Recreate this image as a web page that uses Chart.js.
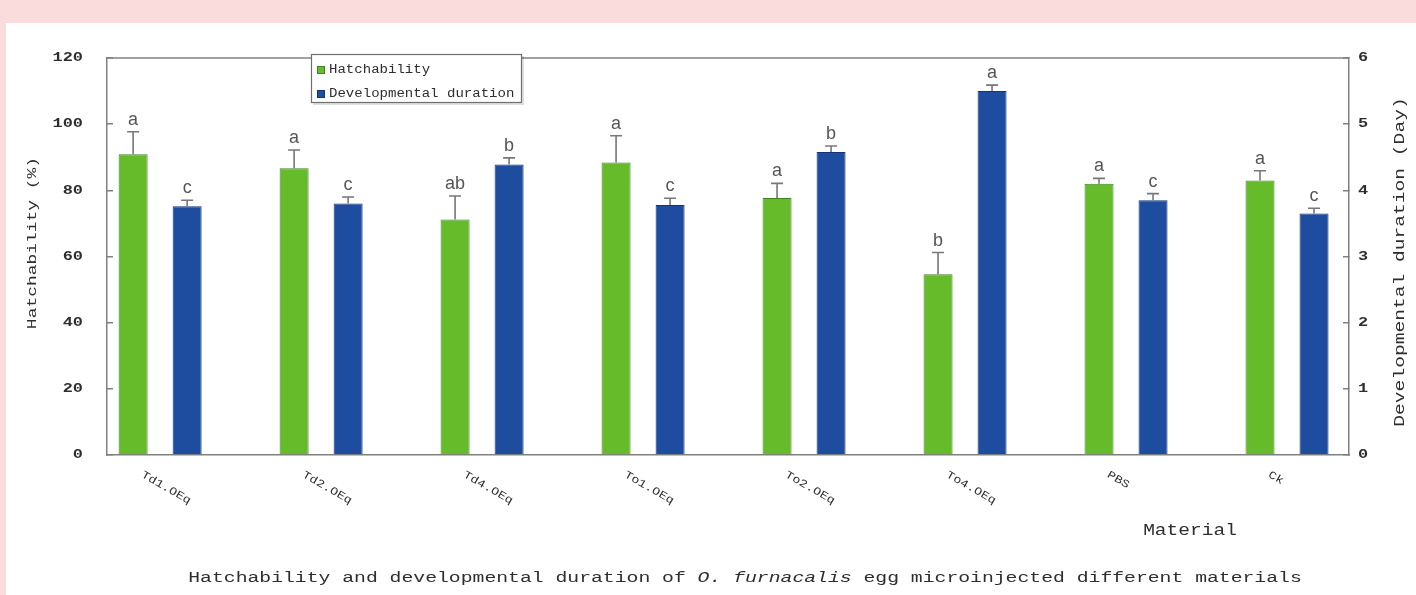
<!DOCTYPE html>
<html lang="en">
  <head>
    <meta charset="UTF-8" />
    <title>Hatchability and developmental duration</title>
    <script src="https://cdn.jsdelivr.net/npm/chart.js"></script>
    <style>
      html, body { margin: 0; padding: 0; }
      body { width: 1416px; height: 595px; background: #f9dcdb; position: relative; overflow: hidden; }
      #panel { position: absolute; left: 6px; top: 23px; right: 0; bottom: 0; background: #fff; }
      #chart { position: absolute; left: 0; top: 0; }
    </style>
  </head>
  <body>
    <div id="panel"></div>
    <canvas id="chart" width="1416" height="595"></canvas>
    <script>
      const categories = ["Td1.OEq", "Td2.OEq", "Td4.OEq", "To1.OEq", "To2.OEq", "To4.OEq", "PBS", "Ck"];
      const hatchability = [90.9, 86.7, 71.2, 88.4, 77.7, 54.6, 82.0, 83.0];
      const hatchabilitySD = [6.8, 5.5, 7.1, 8.1, 4.4, 6.6, 1.6, 2.9];
      const hatchLetters = ["a", "a", "ab", "a", "a", "b", "a", "a"];
      const duration = [3.76, 3.80, 4.39, 3.78, 4.58, 5.50, 3.85, 3.65];
      const durationSD = [0.09, 0.10, 0.10, 0.10, 0.09, 0.09, 0.10, 0.08];
      const durationLetters = ["c", "c", "b", "c", "b", "a", "c", "c"];
      const leftTicks = [0, 20, 40, 60, 80, 100, 120];
      const rightTicks = [0, 1, 2, 3, 4, 5, 6];

      const GREEN = "#66bb2b";
      const BLUE = "#1e4d9f";
      const AXIS = "#808080";
      const MONO = "Liberation Mono";
      const TEXT = "#2e2e2e";

      // text drawn with a horizontal stretch along its own direction
      function stretchText(ctx, text, x, y, o) {
        ctx.save();
        ctx.translate(x, y);
        if (o.angle) ctx.rotate(o.angle);
        ctx.scale(o.sx || 1, 1);
        ctx.font = o.font;
        ctx.fillStyle = o.color || TEXT;
        ctx.textAlign = o.align || "center";
        ctx.textBaseline = o.baseline || "middle";
        ctx.fillText(text, 0, 0);
        ctx.restore();
      }

      const extras = {
        id: "extras",
        beforeDatasetsDraw(chart) {
          const { ctx, chartArea } = chart;
          ctx.save();
          ctx.strokeStyle = AXIS;
          ctx.lineWidth = 1.5;
          ctx.beginPath();
          ctx.moveTo(chartArea.left, chartArea.top);
          ctx.lineTo(chartArea.right, chartArea.top);
          ctx.stroke();
          ctx.restore();
        },
        afterDatasetsDraw(chart) {
          const { ctx } = chart;
          const sets = [
            { meta: chart.getDatasetMeta(0), vals: hatchability, sd: hatchabilitySD, letters: hatchLetters, scale: chart.scales.y },
            { meta: chart.getDatasetMeta(1), vals: duration, sd: durationSD, letters: durationLetters, scale: chart.scales.y1 },
          ];
          ctx.save();
          sets.forEach((s) => {
            s.meta.data.forEach((bar, i) => {
              const capY = s.scale.getPixelForValue(s.vals[i] + s.sd[i]);
              ctx.strokeStyle = "#777";
              ctx.lineWidth = 1.6;
              ctx.beginPath();
              ctx.moveTo(bar.x, bar.y);
              ctx.lineTo(bar.x, capY);
              ctx.moveTo(bar.x - 6, capY);
              ctx.lineTo(bar.x + 6, capY);
              ctx.stroke();
              ctx.font = "18px 'Liberation Sans'";
              ctx.fillStyle = "#555";
              ctx.textAlign = "center";
              ctx.textBaseline = "alphabetic";
              ctx.fillText(s.letters[i], bar.x, capY - 7);
            });
          });
          ctx.restore();
        },
        afterDraw(chart) {
          const { ctx, scales } = chart;
          // y tick labels
          scales.y.ticks.forEach((t) => {
            stretchText(ctx, String(t.value), 83, scales.y.getPixelForValue(t.value),
              { font: `bold 13px '${MONO}'`, sx: 1.3, align: "right" });
          });
          scales.y1.ticks.forEach((t) => {
            stretchText(ctx, String(t.value), 1358, scales.y1.getPixelForValue(t.value),
              { font: `bold 13px '${MONO}'`, sx: 1.3, align: "left" });
          });
          // axis titles
          stretchText(ctx, "Hatchability (%)", 33, 243, { font: `13px '${MONO}'`, sx: 1.38, angle: -Math.PI / 2 });
          stretchText(ctx, "Developmental duration (Day)", 1400, 262, { font: `14px '${MONO}'`, sx: 1.4, angle: -Math.PI / 2 });
          // category labels, rotated clockwise
          categories.forEach((c, i) => {
            const x = scales.x.getPixelForValue(i);
            stretchText(ctx, c, x - 18, 474, { font: `11px '${MONO}'`, sx: 1.2, angle: Math.PI / 6, align: "left" });
          });
          stretchText(ctx, "Material", 1190, 531, { font: `16px '${MONO}'`, sx: 1.22 });

          // caption with italic species name
          const parts = [
            { t: "Hatchability and developmental duration of ", f: `14px '${MONO}'` },
            { t: "O. furnacalis", f: `italic 14px '${MONO}'` },
            { t: " egg microinjected different materials", f: `14px '${MONO}'` },
          ];
          const sx = 1.41;
          let total = 0;
          ctx.save();
          parts.forEach((p) => { ctx.font = p.f; p.w = ctx.measureText(p.t).width; total += p.w; });
          ctx.translate(745 - (total * sx) / 2, 578);
          ctx.scale(sx, 1);
          ctx.fillStyle = TEXT;
          ctx.textBaseline = "middle";
          ctx.textAlign = "left";
          let cx = 0;
          parts.forEach((p) => { ctx.font = p.f; ctx.fillText(p.t, cx, 0); cx += p.w; });
          ctx.restore();

          // legend box
          ctx.save();
          ctx.fillStyle = "rgba(0,0,0,0.12)";
          ctx.fillRect(313, 56, 211, 49);
          ctx.fillStyle = "#fff";
          ctx.fillRect(311, 54, 210, 48);
          ctx.strokeStyle = "#6f6f6f";
          ctx.lineWidth = 1.2;
          ctx.strokeRect(311.5, 54.5, 210, 48);
          chart.data.datasets.forEach((ds, i) => {
            const y = 70 + i * 24;
            ctx.fillStyle = ds.backgroundColor;
            ctx.fillRect(317, y - 4, 8, 8);
            ctx.strokeStyle = ds.borderColor;
            ctx.lineWidth = 1;
            ctx.strokeRect(317.5, y - 3.5, 7, 7);
            stretchText(ctx, ds.label, 329, y, { font: `12px '${MONO}'`, sx: 1.17, align: "left" });
          });
          ctx.restore();
        },
      };

      new Chart(document.getElementById("chart"), {
        type: "bar",
        data: {
          datasets: [
            {
              label: "Hatchability",
              data: hatchability.map((v, i) => ({ x: i, y: v })),
              yAxisID: "y",
              backgroundColor: GREEN,
              borderColor: "#3f8420",
              borderWidth: 1,
            },
            {
              label: "Developmental duration",
              data: duration.map((v, i) => ({ x: i, y: v })),
              yAxisID: "y1",
              backgroundColor: BLUE,
              borderColor: "#13347a",
              borderWidth: 1,
            },
          ],
        },
        options: {
          responsive: false,
          animation: false,
          categoryPercentage: 0.671,
          barPercentage: 0.537,
          layout: { padding: { top: 58, left: 0, right: 0, bottom: 0 } },
          plugins: { legend: { display: false }, tooltip: { enabled: false } },
          scales: {
            x: {
              type: "linear",
              offset: false,
              min: -0.33,
              max: 7.385,
              afterBuildTicks: (s) => { s.ticks = categories.map((c, i) => ({ value: i })); },
              afterFit: (s) => { s.height = 140; },
              grid: { display: false },
              ticks: { display: false },
              border: { color: AXIS, width: 1.5 },
            },
            y: {
              position: "left",
              min: 0,
              max: 120,
              afterBuildTicks: (s) => { s.ticks = leftTicks.map((v) => ({ value: v })); },
              afterFit: (s) => { s.width = 107; },
              grid: { drawOnChartArea: false, tickLength: -6, color: AXIS, lineWidth: 1.5 },
              ticks: { display: false },
              border: { color: AXIS, width: 1.5 },
            },
            y1: {
              position: "right",
              min: 0,
              max: 6,
              afterBuildTicks: (s) => { s.ticks = rightTicks.map((v) => ({ value: v })); },
              afterFit: (s) => { s.width = 67; },
              grid: { drawOnChartArea: false, tickLength: -6, color: AXIS, lineWidth: 1.5 },
              ticks: { display: false },
              border: { color: AXIS, width: 1.5 },
            },
          },
        },
        plugins: [extras],
      });
    </script>
  </body>
</html>
